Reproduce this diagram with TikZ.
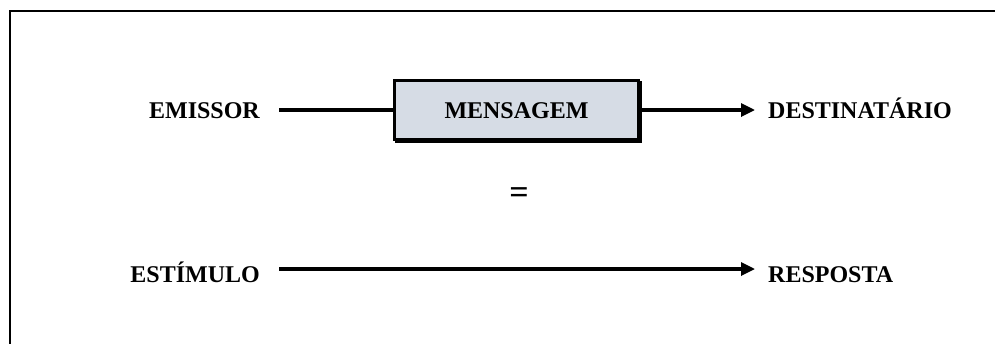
\documentclass[tikz,border=0pt]{standalone}
\usepackage{fontspec}
\setmainfont{Liberation Serif}
\usetikzlibrary{arrows.meta}
\definecolor{boxfill}{RGB}{214,220,229}
\begin{document}
\begin{tikzpicture}[x=1pt,y=-1pt,
  lab/.style={font=\fontsize{24}{26}\selectfont\bfseries, inner sep=0pt, text height=16pt, text depth=0pt},
  labtwo/.style={font=\fontsize{24}{26}\selectfont\bfseries, inner sep=0pt, text height=26pt, text depth=0pt},
  conn/.style={line width=3.2pt},
  arr/.style={line width=3.2pt, -{Triangle[length=14pt,width=13pt]}},
  msgbox/.style={draw=black, line width=3pt, fill=boxfill, minimum width=244pt, minimum height=59pt, inner sep=0pt,
    font=\fontsize{24}{26}\selectfont\bfseries, text height=16pt, text depth=0pt}]
\useasboundingbox (0,0) rectangle (995,343);
\clip (0,0) rectangle (995,343);
% frame
\draw[line width=2pt] (9.5,360) -- (9.5,10.5) -- (1010,10.5);
% row 1
\fill[black] (395,81) rectangle (642,143);
\node[msgbox] (msg) at (516.5,110) {MENSAGEM};
\node[lab, anchor=east] (emissor) at (260,110) {EMISSOR};
\node[lab, anchor=west] (dest) at (768,110) {DESTINATÁRIO};
\draw[conn, shorten <=19pt] (emissor.east) -- (msg.west);
\draw[arr, shorten >=13pt] (msg.east) -- (dest.west);
% equals
\node[font=\fontsize{34}{36}\selectfont\bfseries, inner sep=0pt] (eq) at (519,196) {=};
% row 2
\node[labtwo, anchor=east] (estimulo) at (260,269) {ESTÍMULO};
\node[labtwo, anchor=west] (resposta) at (768,269) {RESPOSTA};
\draw[arr, shorten <=19pt, shorten >=13pt] (estimulo.east) -- (resposta.west);
\end{tikzpicture}
\end{document}
